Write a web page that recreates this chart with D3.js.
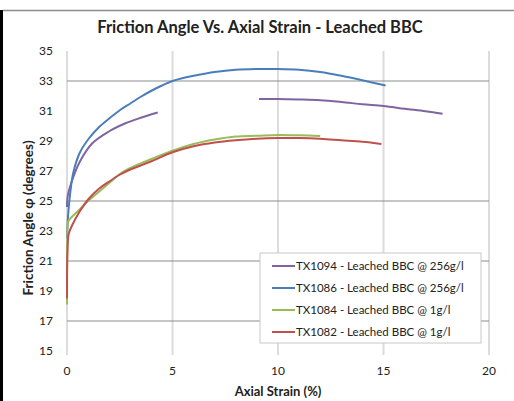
<!DOCTYPE html>
<html>
<head>
<meta charset="utf-8">
<script src="https://cdn.jsdelivr.net/npm/d3@7"></script>
<style>
  body { margin: 0; background: #fff; }
  text { font-family: Lato, "Liberation Sans", sans-serif; }
</style>
</head>
<body>
<script>
// data (strain %, friction angle deg)
const tx1094 = [[0,24.6],[0.03,25.3],[0.2,26.2],[0.6,27.6],[1.2,28.85],[2,29.65],[2.8,30.2],[3.5,30.55],[4.3,30.9],
  null,
  [9.1,31.8],[10,31.8],[11,31.77],[12,31.72],[13,31.6],[14,31.45],[15,31.33],[16,31.15],[17,30.98],[17.8,30.82]];
const tx1086 = [[0,22.5],[0.05,24],[0.15,25.5],[0.3,26.9],[0.6,28.2],[1,29.1],[1.5,29.9],[2,30.5],[2.5,31.05],[3,31.5],
  [3.5,31.95],[4,32.35],[4.5,32.7],[5,33],[5.5,33.2],[6,33.35],[7,33.6],[8,33.75],[9,33.8],[10,33.8],[11,33.75],
  [12,33.6],[13,33.35],[14,33.05],[15.1,32.7]];
const tx1084 = [[0,18.1],[0.02,22.5],[0.05,23.6],[0.2,23.9],[0.5,24.3],[1,25],[1.5,25.6],[2,26.2],[2.5,26.8],[3,27.2],
  [4,27.8],[5,28.35],[6,28.8],[7,29.1],[8,29.3],[9,29.35],[10,29.4],[11,29.38],[12,29.33]];
const tx1082 = [[0,18.5],[0.02,21.5],[0.08,22.8],[0.25,23.4],[0.6,24.3],[1,25.1],[1.5,25.8],[2,26.3],[2.5,26.75],[3,27.1],
  [4,27.65],[5,28.25],[6,28.65],[7,28.9],[8,29.05],[9,29.15],[10,29.2],[11,29.2],[12,29.15],[13,29.05],[14,28.95],[14.9,28.8]];

const seriesNames = ["TX1094 - Leached BBC @ 256g/l", "TX1086 - Leached BBC @ 256g/l",
  "TX1084 - Leached BBC @ 1g/l", "TX1082 - Leached BBC @ 1g/l"];
const seriesColors = ["#8064A2", "#4A7EBB", "#9BBB59", "#C0504D"];
const xTicks = [0, 5, 10, 15, 20];
const yTicks = [15, 17, 19, 21, 23, 25, 27, 29, 31, 33, 35];
const yGrid = [17, 21, 25, 33];

const canvWidth = 514, canvHeight = 401;
const svg = d3.select("body").append("svg")
    .attr("width", canvWidth)
    .attr("height", canvHeight);

// frame: black left edge, grey top edge
svg.append("rect").attr("x", 0).attr("y", 10).attr("width", 3).attr("height", canvHeight - 10).attr("fill", "#000");
svg.append("line").attr("x1", 3).attr("x2", canvWidth).attr("y1", 10.5).attr("y2", 10.5)
    .attr("stroke", "#8c8c8c").attr("stroke-width", 1.5);

const margin = {top: 51, right: 25, bottom: 50, left: 67};
const width = canvWidth - margin.left - margin.right;
const height = canvHeight - margin.top - margin.bottom;

const x = d3.scaleLinear().domain([0, 20]).range([0, width]);
const y = d3.scaleLinear().domain([15, 35]).range([height, 0]);

svg.append("text")
    .attr("x", 260).attr("y", 33)
    .attr("text-anchor", "middle")
    .attr("font-size", "16.5px").attr("font-weight", "bold")
    .attr("fill", "#222")
    .text("Friction Angle Vs. Axial Strain - Leached BBC");

const g = svg.append("g")
    .attr("transform", "translate(" + margin.left + "," + margin.top + ")");

// vertical grid
g.selectAll(".vgrid").data(xTicks).enter().append("line")
    .attr("x1", d => x(d)).attr("x2", d => x(d))
    .attr("y1", 0).attr("y2", height + 4)
    .attr("stroke", "#dcdcdc").attr("stroke-width", 2);

// horizontal grid
g.selectAll(".hgrid").data(yGrid).enter().append("line")
    .attr("x1", 0).attr("x2", width)
    .attr("y1", d => y(d)).attr("y2", d => y(d))
    .attr("stroke", "#8c8c8c").attr("stroke-width", 1.2);

// axis labels
g.selectAll(".ylab").data(yTicks).enter().append("text")
    .attr("x", -14).attr("y", d => y(d) + 4)
    .attr("text-anchor", "end")
    .attr("font-size", "12px").attr("fill", "#222")
    .text(d => d);

g.selectAll(".xlab").data(xTicks).enter().append("text")
    .attr("x", d => x(d)).attr("y", height + 24)
    .attr("text-anchor", "middle")
    .attr("font-size", "12px").attr("fill", "#222")
    .text(d => d);

svg.append("text")
    .attr("x", margin.left + x(10)).attr("y", 396)
    .attr("text-anchor", "middle")
    .attr("font-size", "13px").attr("font-weight", "bold").attr("fill", "#222")
    .text("Axial Strain (%)");

svg.append("text")
    .attr("transform", "translate(33,218) rotate(-90)")
    .attr("text-anchor", "middle")
    .attr("font-size", "13.5px").attr("font-weight", "bold").attr("fill", "#222")
    .text("Friction Angle φ (degrees)");

// series
const line = d3.line()
    .defined(d => d !== null)
    .x(d => x(d[0]))
    .y(d => y(d[1]))
    .curve(d3.curveCatmullRom.alpha(0.5));

const allSeries = [tx1094, tx1086, tx1084, tx1082];
g.selectAll(".series").data(allSeries).enter().append("path")
    .attr("d", line)
    .attr("fill", "none")
    .attr("stroke", (d, i) => seriesColors[i])
    .attr("stroke-width", 2);

// legend
const legend = svg.append("g").attr("transform", "translate(260,253)");
legend.append("rect")
    .attr("width", 221).attr("height", 90)
    .attr("fill", "#fff").attr("stroke", "#c8c8c8");

const items = legend.selectAll(".item").data(seriesNames).enter().append("g")
    .attr("transform", (d, i) => "translate(0," + (13 + i * 22) + ")");
items.append("line")
    .attr("x1", 12).attr("x2", 35)
    .attr("stroke", (d, i) => seriesColors[i]).attr("stroke-width", 2);
items.append("text")
    .attr("x", 36).attr("y", 4)
    .attr("font-size", "11.5px").attr("fill", "#222")
    .text(d => d);
</script>
</body>
</html>
